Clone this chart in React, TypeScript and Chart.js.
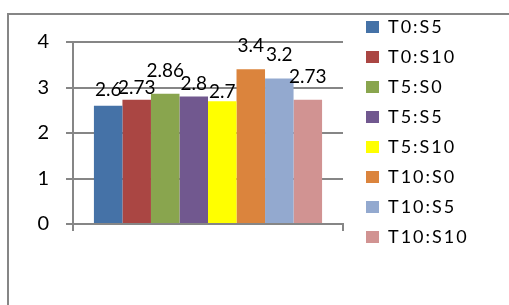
import React, { useEffect, useRef } from "react";
import { Chart, registerables } from "chart.js";

Chart.register(...registerables);

// ---- data ----
const categories: string[] = [""];
const seriesNames: string[] = ["T0:S5", "T0:S10", "T5:S0", "T5:S5", "T5:S10", "T10:S0", "T10:S5", "T10:S10"];
const seriesValues: number[] = [2.6, 2.73, 2.86, 2.8, 2.7, 3.4, 3.2, 2.73];
const yTicks: number[] = [0, 1, 2, 3, 4];

// ---- styles / layout ----
const COLORS = ["#4572A7", "#AA4643", "#89A54E", "#71588F", "#FFFF00", "#DB843D", "#93A9CF", "#D19392"];
const LABEL_LIFT = [10, 6, 17, 7, 3, 17, 17, 17];
const GRID = "#868686";
const FONT = "Lato";
const PLOT_RIGHT = 343;
const LEGEND_LEFT = 354;

const spacingPlugin = {
  id: "legendSpacing",
  beforeLayout(chart: any) {
    chart.ctx.letterSpacing = "2px";
  },
  afterLayout(chart: any) {
    const lg = chart.legend;
    if (lg) {
      lg.left = LEGEND_LEFT;
      lg.right = chart.width;
      lg.width = lg.right - lg.left;
    }
  },
  beforeDraw(chart: any) {
    chart.ctx.letterSpacing = "2px";
  },
};

const valueLabels = {
  id: "valueLabels",
  afterDatasetsDraw(chart: any) {
    const ctx = chart.ctx;
    ctx.save();
    ctx.letterSpacing = "0px";
    ctx.font = `19px ${FONT}`;
    ctx.fillStyle = "#000";
    ctx.textAlign = "center";
    ctx.textBaseline = "alphabetic";
    chart.data.datasets.forEach((ds: any, i: number) => {
      const meta = chart.getDatasetMeta(i);
      meta.data.forEach((el: any, j: number) => {
        ctx.fillText(String(ds.data[j]), el.x, el.y - LABEL_LIFT[i]);
      });
    });
    ctx.restore();
  },
};

export default function App() {
  const ref = useRef<HTMLCanvasElement | null>(null);

  useEffect(() => {
    document.body.style.margin = "0";
    const canvas = ref.current;
    if (!canvas) return;
    Chart.defaults.font.family = FONT;
    const chart = new Chart(canvas, {
      type: "bar",
      data: {
        labels: categories,
        datasets: seriesNames.map((name, i) => ({
          label: name,
          data: [seriesValues[i]],
          backgroundColor: COLORS[i],
          borderWidth: 0,
          categoryPercentage: 0.845,
          barPercentage: 1,
        })),
      },
      options: {
        responsive: false,
        animation: false,
        layout: { padding: { top: 6, left: 0, right: 0, bottom: 0 } },
        plugins: {
          title: {
            display: true,
            text: "",
            font: { size: 1, lineHeight: 1 },
            padding: { top: 0, bottom: 35 },
          },
          legend: {
            position: "right",
            align: "start",
            labels: {
              boxWidth: 13,
              boxHeight: 12,
              padding: 12,
              color: "#000",
              font: { size: 18, family: FONT },
            },
          },
          tooltip: { enabled: false },
        },
        scales: {
          x: {
            grid: { drawOnChartArea: false, drawTicks: true, tickLength: 7, color: GRID, lineWidth: 2 },
            border: { display: true, color: GRID, width: 2 },
            ticks: { display: true },
            afterFit(s: any) {
              s.height = 81;
            },
          },
          y: {
            min: 0,
            max: 4,
            grid: { color: GRID, lineWidth: 2, tickLength: 7 },
            border: { color: GRID, width: 2 },
            ticks: { padding: 15, color: "#000", font: { size: 20, family: FONT } },
            afterBuildTicks(s: any) {
              s.ticks = yTicks.map((v) => ({ value: v }));
            },
            afterFit(s: any) {
              s.width = 73;
            },
          },
          y2: {
            type: "linear",
            position: "right",
            display: true,
            grid: { display: false },
            border: { display: false },
            ticks: { display: false },
            afterFit(s: any) {
              const lw = s.chart.legend ? s.chart.legend.width : 0;
              s.width = Math.max(0, s.chart.width - PLOT_RIGHT - lw);
            },
          },
        },
      } as any,
      plugins: [spacingPlugin, valueLabels],
    });
    return () => chart.destroy();
  }, []);

  return (
    <div style={{ position: "relative", width: 509, height: 305, overflow: "hidden", background: "#fff" }}>
      <div
        style={{
          position: "absolute",
          left: 7,
          top: 13,
          width: 560,
          height: 400,
          borderLeft: `2px solid ${GRID}`,
          borderTop: `2px solid ${GRID}`,
          boxSizing: "border-box",
        }}
      />
      <canvas ref={ref} width={509} height={305} style={{ position: "absolute", left: 0, top: 0, display: "block" }} />
    </div>
  );
}
